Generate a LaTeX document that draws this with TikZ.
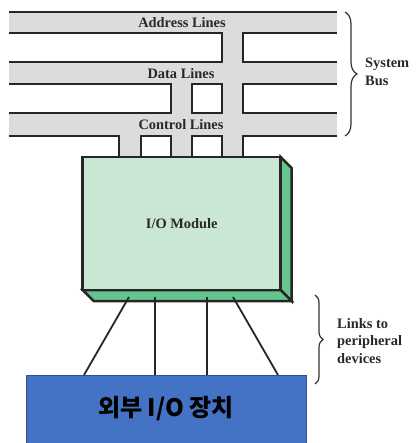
\documentclass[tikz,border=0pt]{standalone}
\usepackage{fontspec}
\setmainfont{Liberation Serif}
\newfontfamily\krfont{Noto Sans CJK KR}
\usetikzlibrary{decorations.pathreplacing,calc}
\definecolor{busgray}{RGB}{220,220,220}
\definecolor{frontgreen}{RGB}{201,231,211}
\definecolor{sidegreen}{RGB}{102,196,142}
\definecolor{devblue}{RGB}{68,114,196}
\definecolor{devedge}{RGB}{47,82,143}
\definecolor{txt}{RGB}{40,40,40}
\begin{document}
\begin{tikzpicture}[x=1pt,y=-1pt,
  busline/.style={line width=2pt, draw=black!85},
  buslabel/.style={font=\bfseries\fontsize{14.4}{17}\selectfont, text=txt, inner sep=0pt},
  sidelabel/.style={font=\bfseries\fontsize{14.4}{17.5}\selectfont, text=txt, inner sep=0pt, align=left, anchor=west},
  bracestyle/.style={decorate, line width=1.2pt, draw=black!80},
  modface/.style={draw=black!85, line width=2.5pt, line join=miter},
  linkline/.style={line width=1.8pt, draw=black!85}]
\useasboundingbox (0,0) rectangle (417,443);

% bus gray fills
\fill[busgray] (9,12) rectangle (337,33);
\fill[busgray] (9,62) rectangle (337,84);
\fill[busgray] (9,113) rectangle (337,136);
\fill[busgray] (222,33) rectangle (243,157);
\fill[busgray] (171,84) rectangle (192,157);
\fill[busgray] (119,136) rectangle (141,157);

% bus lines
\draw[busline] (9,12) -- (337,12);
\draw[busline] (9,33) -- (222,33) -- (222,62) -- (9,62);
\draw[busline] (337,33) -- (243,33) -- (243,62) -- (337,62);
\draw[busline] (9,84) -- (171,84) -- (171,113) -- (9,113);
\draw[busline] (192,84) -- (222,84) -- (222,113) -- (192,113) -- cycle;
\draw[busline] (337,84) -- (243,84) -- (243,113) -- (337,113);
\draw[busline] (9,136) -- (119,136) -- (119,157);
\draw[busline] (141,157) -- (141,136) -- (171,136) -- (171,157);
\draw[busline] (192,157) -- (192,136) -- (222,136) -- (222,157);
\draw[busline] (243,157) -- (243,136) -- (337,136);

\node[buslabel] (addr) at (182,23) {Address Lines};
\node[buslabel] (data) at (181,74) {Data Lines};
\node[buslabel] (ctrl) at (181,125) {Control Lines};

% I/O module 3D
\filldraw[modface, fill=sidegreen] (280.7,157) -- (291.7,168) -- (291.7,301) -- (280.7,290) -- cycle;
\filldraw[modface, fill=sidegreen] (82.7,290) -- (93.7,301) -- (291.7,301) -- (280.7,290) -- cycle;
\node[modface, fill=frontgreen, minimum width=198pt, minimum height=133pt, inner sep=0pt,
  font=\bfseries\fontsize{14.4}{17}\selectfont, text=txt] (mod) at (181.7,223.5) {I/O Module};

% external device
\node[fill=devblue, draw=devedge, line width=1pt, minimum width=280pt, minimum height=68pt,
  inner sep=0pt, font=\krfont\bfseries\fontsize{24}{28}\selectfont] (dev) at (166,409) {외부 I/O 장치};

% links
\coordinate (l1s) at (129,297); \coordinate (l1e) at (84,375);
\coordinate (l2s) at (155,297); \coordinate (l2e) at (155,375);
\coordinate (l3s) at (206.7,297); \coordinate (l3e) at (206.7,375);
\coordinate (l4s) at (233,297); \coordinate (l4e) at (278,375);
\draw[linkline] (l1s) -- (l1e);
\draw[linkline] (l2s) -- (l2e);
\draw[linkline] (l3s) -- (l3e);
\draw[linkline] (l4s) -- (l4e);

% braces
\coordinate (sbt) at (345,12); \coordinate (sbb) at (345,136);
\draw[bracestyle, decoration={brace, amplitude=12pt}] (sbt) -- (sbb);
\node[sidelabel] (sysbus) at (365,72) {System\\Bus};
\coordinate (lbt) at (315,295); \coordinate (lbb) at (315,384);
\draw[bracestyle, decoration={brace, amplitude=8pt}] (lbt) -- (lbb);
\node[sidelabel] (links) at (337,341) {Links to\\peripheral\\devices};
\end{tikzpicture}
\end{document}
